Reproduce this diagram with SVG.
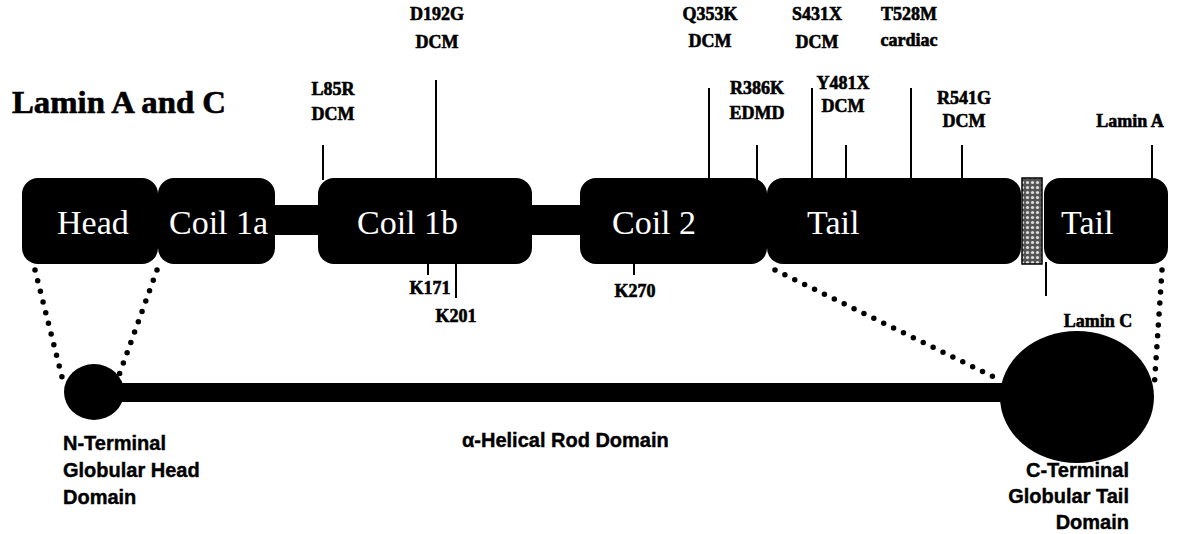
<svg xmlns="http://www.w3.org/2000/svg" width="1184" height="534" viewBox="0 0 1184 534">
<style>
.box{fill:#000}
.bl{font-family:"Liberation Serif",serif;font-size:34px;fill:#fff}
.mut{font-family:"Liberation Serif",serif;font-size:18px;font-weight:bold;fill:#000;stroke:#000;stroke-width:0.6;text-anchor:middle}
.tick{stroke:#000;stroke-width:2}
.dot{stroke:#000;stroke-width:5.5;stroke-linecap:round;stroke-dasharray:0 11;fill:none}
.dom{font-family:"Liberation Sans",Arial,sans-serif;font-size:20px;font-weight:bold;fill:#000;stroke:#000;stroke-width:0.4}
</style>
<defs>
<pattern id="stip" width="5" height="5" patternUnits="userSpaceOnUse">
<rect width="5" height="5" fill="#555"/>
<circle cx="2.5" cy="2.5" r="1.6" fill="#ddd"/>
</pattern>
</defs>
<rect width="1184" height="534" fill="#fff"/>
<text x="12" y="113" font-family="Liberation Serif,serif" font-size="31" font-weight="bold" stroke="#000" stroke-width="0.6" textLength="214" lengthAdjust="spacingAndGlyphs">Lamin A and C</text>

<g id="connectors">
<rect x="270" y="205" width="52" height="30" class="box"/>
<rect x="528" y="205" width="56" height="30" class="box"/>
<line class="tick" x1="323" y1="145" x2="323" y2="180"/>
<line class="tick" x1="436" y1="80" x2="436" y2="180"/>
<line class="tick" x1="709" y1="88" x2="709" y2="180"/>
<line class="tick" x1="757" y1="145" x2="757" y2="180"/>
<line class="tick" x1="812" y1="88" x2="812" y2="180"/>
<line class="tick" x1="846" y1="145" x2="846" y2="180"/>
<line class="tick" x1="911" y1="88" x2="911" y2="180"/>
<line class="tick" x1="962" y1="145" x2="962" y2="180"/>
<line class="tick" x1="1152" y1="145" x2="1152" y2="180"/>
<line class="tick" x1="428" y1="262" x2="428" y2="275"/>
<line class="tick" x1="456" y1="262" x2="456" y2="298"/>
<line class="tick" x1="634" y1="262" x2="634" y2="275"/>
<line class="tick" x1="1046" y1="262" x2="1046" y2="296"/>
<path class="dot" d="M35 270 L62 377"/>
<path class="dot" d="M157 270 L118 378"/>
<path class="dot" d="M775 270 L1000 380"/>
<path class="dot" d="M1162 270 L1154 390"/>
<rect x="92" y="383" width="930" height="19" class="box"/>
</g>

<g id="head"><rect x="22" y="178" width="136" height="86" rx="16" class="box"/><text class="bl" x="57" y="234">Head</text></g>
<g id="coil1a"><rect x="158" y="178" width="117" height="86" rx="16" class="box"/><text class="bl" x="169" y="234">Coil 1a</text></g>
<g id="coil1b"><rect x="318" y="178" width="214" height="86" rx="16" class="box"/><text class="bl" x="357" y="234">Coil 1b</text></g>
<g id="coil2"><rect x="580" y="178" width="187" height="86" rx="16" class="box"/><text class="bl" x="612" y="234">Coil 2</text></g>
<g id="tail1"><rect x="767" y="178" width="254" height="86" rx="16" class="box"/><text class="bl" x="807" y="234">Tail</text></g>
<g id="hinge"><rect x="1022" y="178" width="20" height="86" fill="url(#stip)" stroke="#000" stroke-width="1.5"/></g>
<g id="tail2"><rect x="1044" y="178" width="124" height="86" rx="16" class="box"/><text class="bl" x="1061" y="234">Tail</text></g>

<g id="mutations">
<text class="mut" x="333" y="95">L85R</text><text class="mut" x="333" y="120">DCM</text>
<text class="mut" x="437" y="20">D192G</text><text class="mut" x="437" y="48">DCM</text>
<text class="mut" x="710" y="20">Q353K</text><text class="mut" x="710" y="47">DCM</text>
<text class="mut" x="757" y="94">R386K</text><text class="mut" x="757" y="119">EDMD</text>
<text class="mut" x="817" y="20">S431X</text><text class="mut" x="817" y="48">DCM</text>
<text class="mut" x="843" y="89">Y481X</text><text class="mut" x="843" y="112">DCM</text>
<text class="mut" x="909" y="20">T528M</text><text class="mut" x="909" y="46">cardiac</text>
<text class="mut" x="964" y="104">R541G</text><text class="mut" x="964" y="127">DCM</text>
<text class="mut" x="1130" y="127">Lamin A</text>
<text class="mut" x="430" y="294">K171</text>
<text class="mut" x="456" y="322">K201</text>
<text class="mut" x="635" y="297">K270</text>
<text class="mut" x="1098" y="327">Lamin C</text>
</g>

<g id="nterm"><ellipse cx="94" cy="392" rx="30" ry="28" class="box"/>
<text class="dom" x="63" y="450">N-Terminal</text><text class="dom" x="63" y="477">Globular Head</text><text class="dom" x="63" y="504">Domain</text></g>
<g id="rod"><text class="dom" x="462" y="447">α-Helical Rod Domain</text></g>
<g id="cterm"><ellipse cx="1077" cy="397" rx="77" ry="66" class="box"/>
<text class="dom" text-anchor="end" x="1129" y="477">C-Terminal</text><text class="dom" text-anchor="end" x="1129" y="503">Globular Tail</text><text class="dom" text-anchor="end" x="1129" y="529">Domain</text></g>
</svg>
